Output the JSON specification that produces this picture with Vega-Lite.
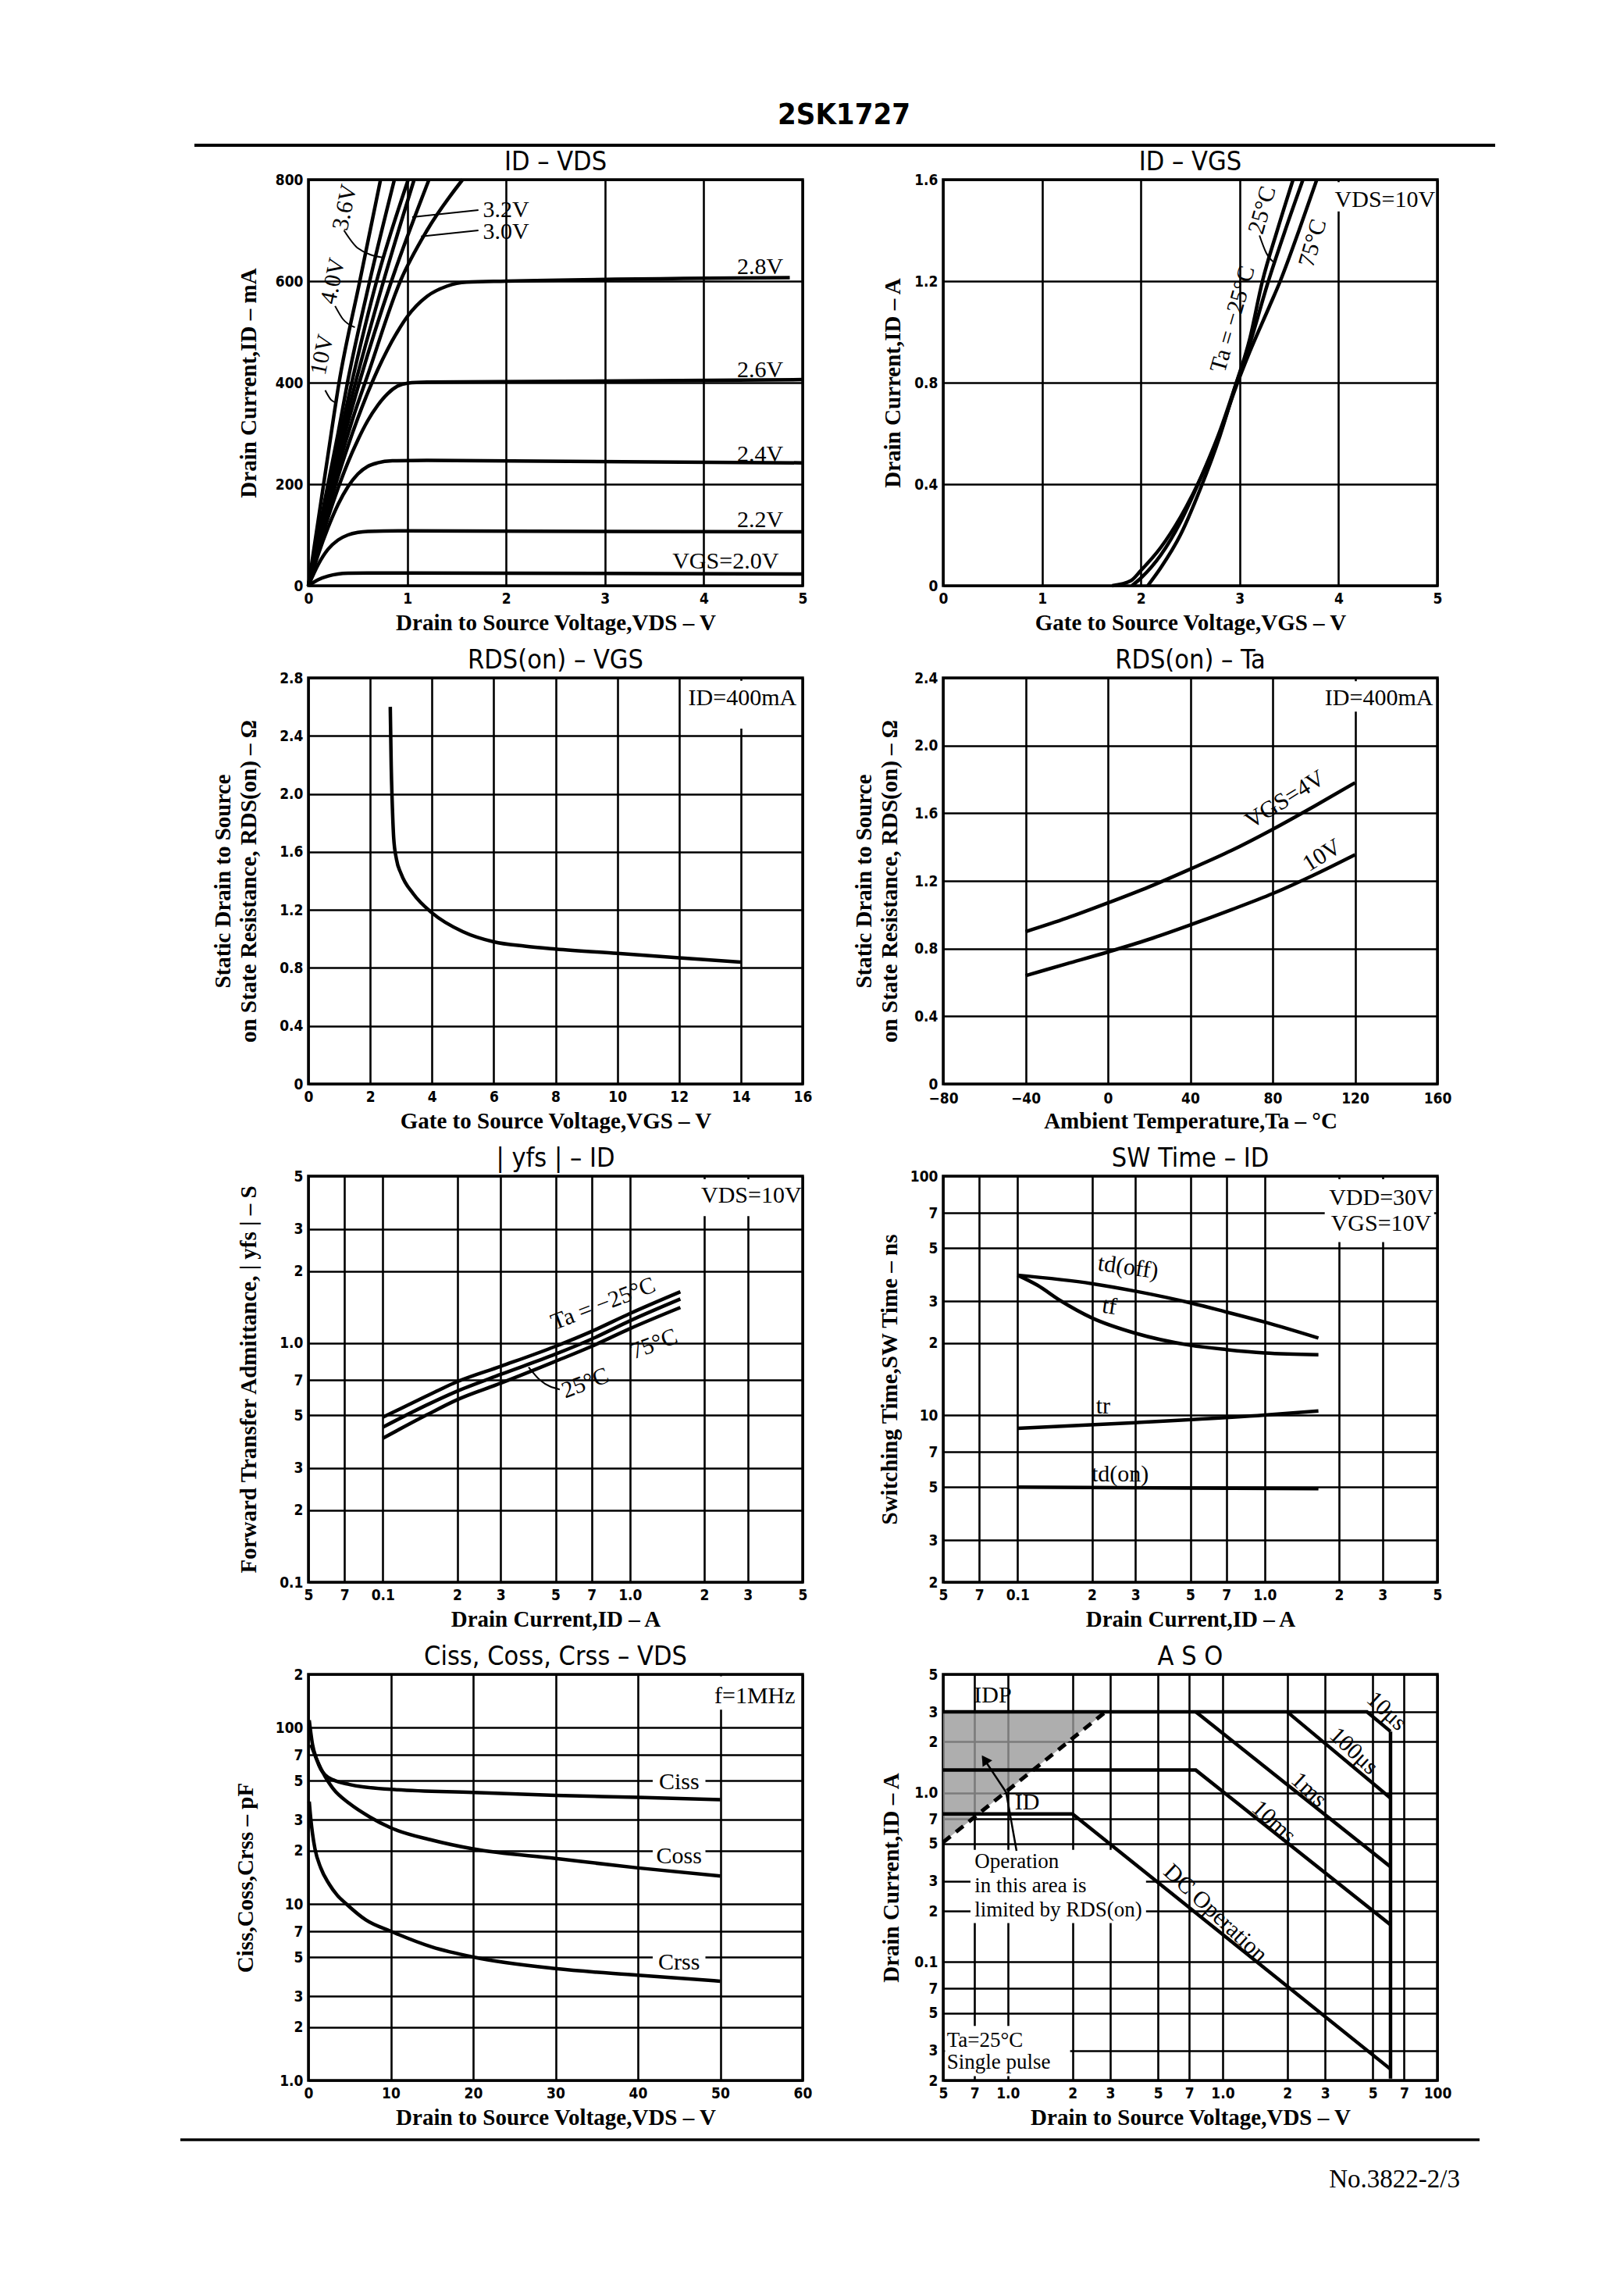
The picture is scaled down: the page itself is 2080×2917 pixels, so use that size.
{
"$schema": "https://vega.github.io/schema/vega-lite/v6.json",
"background": "white",
"padding": {"left": 229, "top": 100, "right": 10, "bottom": 10},
"autosize": {"type": "pad"},
"config": {
  "view": {"stroke": "black", "strokeWidth": 3.5},
  "axis": {"domain": false, "ticks": false, "grid": true, "gridColor": "black", "gridWidth": 2.6, "gridOpacity": 1,
    "labelFont": "DejaVu Sans Condensed, DejaVu Sans", "labelFontWeight": "bold", "labelFontSize": 19, "labelColor": "black",
    "labelPadding": 7, "labelOverlap": false, "labelFlush": false, "labelBound": false,
    "titleFont": "Liberation Serif", "titleFontWeight": "bold", "titleFontSize": 29, "titleColor": "black", "titleLineHeight": 33},
  "axisX": {"titleY": 47, "titleBaseline": "middle"},
  "axisY": {"titleBaseline": "middle"},
  "title": {"font": "DejaVu Sans Condensed, DejaVu Sans", "fontSize": 34, "fontWeight": "normal", "color": "black", "frame": "group", "offset": -4},
  "text": {"font": "Liberation Serif", "fontSize": 30, "color": "black"},
  "line": {"color": "black", "strokeWidth": 4.5}
},
"columns": 2,
"bounds": "flush",
"spacing": {"row": 118, "column": 180},
"concat": [
  {
    "width": 633, "height": 12, "view": {"stroke": null},
    "data": {"values": [{"px": 247, "px2": 1913, "py": 186}]},
    "mark": {"type": "rule", "strokeWidth": 4, "color": "black"},
    "encoding": {
      "x": {"field": "px", "type": "quantitative", "scale": {"domain": [393, 1026], "nice": false, "zero": false}, "axis": null},
      "x2": {"field": "px2"},
      "y": {"field": "py", "type": "quantitative", "scale": {"domain": [100, 112], "nice": false, "zero": false, "reverse": true}, "axis": null}
    }
  },
  {
    "width": 633, "height": 12, "view": {"stroke": null},
    "data": {"values": [{"px": 1079, "py": 148, "t": "2SK1727"}]},
    "mark": {"type": "text", "font": "DejaVu Sans Condensed, DejaVu Sans", "fontSize": 38, "fontWeight": "bold"},
    "encoding": {
      "x": {"field": "px", "type": "quantitative", "scale": {"domain": [1206, 1839], "nice": false, "zero": false}, "axis": null},
      "y": {"field": "py", "type": "quantitative", "scale": {"domain": [100, 112], "nice": false, "zero": false, "reverse": true}, "axis": null},
      "text": {"field": "t"}
    }
  },
  {
    "width": 633, "height": 520,
    "title": {"text": "ID   –   VDS"},
    "encoding": {
      "x": {"field": "x", "type": "quantitative", "scale": {"domain": [0, 5], "nice": false}, "axis": {"values": [0, 1, 2, 3, 4, 5], "title": "Drain to Source Voltage,VDS – V"}},
      "y": {"field": "y", "type": "quantitative", "scale": {"domain": [0, 800], "nice": false}, "axis": {"values": [0, 200, 400, 600, 800], "title": "Drain Current,ID – mA", "titleX": -77}}
    },
    "layer": [
      {"data": {"values": [
        {"s": "2.0V", "x": 0, "y": 0}, {"s": "2.0V", "x": 0.1, "y": 12}, {"s": "2.0V", "x": 0.2, "y": 19}, {"s": "2.0V", "x": 0.3, "y": 23}, {"s": "2.0V", "x": 0.4, "y": 24.5}, {"s": "2.0V", "x": 0.6, "y": 25}, {"s": "2.0V", "x": 1, "y": 25}, {"s": "2.0V", "x": 5, "y": 23},
        {"s": "2.2V", "x": 0, "y": 0}, {"s": "2.2V", "x": 0.1, "y": 42}, {"s": "2.2V", "x": 0.2, "y": 72}, {"s": "2.2V", "x": 0.3, "y": 90}, {"s": "2.2V", "x": 0.4, "y": 100}, {"s": "2.2V", "x": 0.5, "y": 105}, {"s": "2.2V", "x": 0.6, "y": 107}, {"s": "2.2V", "x": 1, "y": 108}, {"s": "2.2V", "x": 5, "y": 106},
        {"s": "2.4V", "x": 0, "y": 0}, {"s": "2.4V", "x": 0.1, "y": 62}, {"s": "2.4V", "x": 0.2, "y": 115}, {"s": "2.4V", "x": 0.3, "y": 160}, {"s": "2.4V", "x": 0.4, "y": 195}, {"s": "2.4V", "x": 0.5, "y": 220}, {"s": "2.4V", "x": 0.6, "y": 235}, {"s": "2.4V", "x": 0.7, "y": 242}, {"s": "2.4V", "x": 0.85, "y": 246}, {"s": "2.4V", "x": 1.2, "y": 247}, {"s": "2.4V", "x": 5, "y": 242},
        {"s": "2.6V", "x": 0, "y": 0}, {"s": "2.6V", "x": 0.1, "y": 70}, {"s": "2.6V", "x": 0.2, "y": 135}, {"s": "2.6V", "x": 0.3, "y": 192}, {"s": "2.6V", "x": 0.4, "y": 243}, {"s": "2.6V", "x": 0.5, "y": 287}, {"s": "2.6V", "x": 0.6, "y": 325}, {"s": "2.6V", "x": 0.7, "y": 355}, {"s": "2.6V", "x": 0.8, "y": 378}, {"s": "2.6V", "x": 0.9, "y": 393}, {"s": "2.6V", "x": 1.0, "y": 399}, {"s": "2.6V", "x": 1.2, "y": 401}, {"s": "2.6V", "x": 5, "y": 406},
        {"s": "2.8V", "x": 0, "y": 0}, {"s": "2.8V", "x": 0.1, "y": 75}, {"s": "2.8V", "x": 0.2, "y": 148}, {"s": "2.8V", "x": 0.3, "y": 215}, {"s": "2.8V", "x": 0.4, "y": 275}, {"s": "2.8V", "x": 0.5, "y": 330}, {"s": "2.8V", "x": 0.6, "y": 380}, {"s": "2.8V", "x": 0.7, "y": 425}, {"s": "2.8V", "x": 0.8, "y": 465}, {"s": "2.8V", "x": 0.9, "y": 500}, {"s": "2.8V", "x": 1.0, "y": 530}, {"s": "2.8V", "x": 1.2, "y": 570}, {"s": "2.8V", "x": 1.4, "y": 590}, {"s": "2.8V", "x": 1.6, "y": 598}, {"s": "2.8V", "x": 2, "y": 600}, {"s": "2.8V", "x": 4.87, "y": 607},
        {"s": "3.0V", "x": 0, "y": 0}, {"s": "3.0V", "x": 0.1, "y": 80}, {"s": "3.0V", "x": 0.2, "y": 158}, {"s": "3.0V", "x": 0.3, "y": 232}, {"s": "3.0V", "x": 0.45, "y": 330}, {"s": "3.0V", "x": 0.6, "y": 415}, {"s": "3.0V", "x": 0.93, "y": 600}, {"s": "3.0V", "x": 1.2, "y": 700}, {"s": "3.0V", "x": 1.56, "y": 800},
        {"s": "3.2V", "x": 0, "y": 0}, {"s": "3.2V", "x": 0.1, "y": 85}, {"s": "3.2V", "x": 0.2, "y": 168}, {"s": "3.2V", "x": 0.3, "y": 248}, {"s": "3.2V", "x": 0.53, "y": 410}, {"s": "3.2V", "x": 0.84, "y": 600}, {"s": "3.2V", "x": 1.22, "y": 800},
        {"s": "3.4V", "x": 0, "y": 0}, {"s": "3.4V", "x": 0.1, "y": 90}, {"s": "3.4V", "x": 0.2, "y": 178}, {"s": "3.4V", "x": 0.3, "y": 262}, {"s": "3.4V", "x": 0.49, "y": 410}, {"s": "3.4V", "x": 0.76, "y": 600}, {"s": "3.4V", "x": 1.07, "y": 800},
        {"s": "3.6V", "x": 0, "y": 0}, {"s": "3.6V", "x": 0.1, "y": 95}, {"s": "3.6V", "x": 0.2, "y": 188}, {"s": "3.6V", "x": 0.3, "y": 278}, {"s": "3.6V", "x": 0.45, "y": 410}, {"s": "3.6V", "x": 0.69, "y": 600}, {"s": "3.6V", "x": 1.01, "y": 800},
        {"s": "4.0V", "x": 0, "y": 0}, {"s": "4.0V", "x": 0.1, "y": 102}, {"s": "4.0V", "x": 0.2, "y": 202}, {"s": "4.0V", "x": 0.3, "y": 300}, {"s": "4.0V", "x": 0.4, "y": 405}, {"s": "4.0V", "x": 0.62, "y": 600}, {"s": "4.0V", "x": 0.87, "y": 800},
        {"s": "10V", "x": 0, "y": 0}, {"s": "10V", "x": 0.1, "y": 130}, {"s": "10V", "x": 0.2, "y": 260}, {"s": "10V", "x": 0.31, "y": 400}, {"s": "10V", "x": 0.52, "y": 600}, {"s": "10V", "x": 0.73, "y": 800}
      ]}, "mark": {"type": "line", "interpolate": "monotone"}, "encoding": {"detail": {"field": "s"}}},
      {"data": {"values": [
        {"s": "a", "x": 1.05, "y": 726}, {"s": "a", "x": 1.72, "y": 740},
        {"s": "b", "x": 1.14, "y": 688}, {"s": "b", "x": 1.72, "y": 700},
        {"s": "c", "x": 0.36, "y": 700}, {"s": "c", "x": 0.5, "y": 665}, {"s": "c", "x": 0.76, "y": 646},
        {"s": "d", "x": 0.27, "y": 551}, {"s": "d", "x": 0.35, "y": 525}, {"s": "d", "x": 0.47, "y": 509},
        {"s": "e", "x": 0.17, "y": 385}, {"s": "e", "x": 0.23, "y": 366}, {"s": "e", "x": 0.29, "y": 360}
      ]}, "mark": {"type": "line", "interpolate": "monotone", "strokeWidth": 2}, "encoding": {"detail": {"field": "s"}}},
      {"data": {"values": [
        {"x": 4.57, "y": 628, "t": "2.8V"}, {"x": 4.57, "y": 425, "t": "2.6V"}, {"x": 4.57, "y": 258, "t": "2.4V"}, {"x": 4.57, "y": 129, "t": "2.2V"},
        {"x": 4.22, "y": 48, "t": "VGS=2.0V"}, {"x": 2.0, "y": 740, "t": "3.2V"}, {"x": 2.0, "y": 697, "t": "3.0V"}
      ]}, "mark": {"type": "text"}, "encoding": {"text": {"field": "t"}}},
      {"data": {"values": [
        {"x": 0.37, "y": 745, "t": "3.6V"}, {"x": 0.25, "y": 600, "t": "4.0V"}, {"x": 0.14, "y": 455, "t": "10V"}
      ]}, "mark": {"type": "text", "angle": -78}, "encoding": {"text": {"field": "t"}}}
    ]
  },
  {
    "width": 633, "height": 520,
    "title": {"text": "ID   –   VGS"},
    "encoding": {
      "x": {"field": "x", "type": "quantitative", "scale": {"domain": [0, 5], "nice": false}, "axis": {"values": [0, 1, 2, 3, 4, 5], "title": "Gate to Source Voltage,VGS – V"}},
      "y": {"field": "y", "type": "quantitative", "scale": {"domain": [0, 1.6], "nice": false}, "axis": {"values": [0, 0.4, 0.8, 1.2, 1.6], "labelExpr": "datum.value==0?'0':format(datum.value,'.1f')", "title": "Drain Current,ID – A", "titleX": -65}}
    },
    "layer": [
      {"data": {"values": [{"x": 3.95, "x2": 4.97, "y": 1.475, "y2": 1.59}]}, "mark": {"type": "rect", "color": "white"}, "encoding": {"x2": {"field": "x2"}, "y2": {"field": "y2"}}},
      {"data": {"values": [
        {"s": "75", "x": 1.71, "y": 0}, {"s": "75", "x": 1.9, "y": 0.02}, {"s": "75", "x": 2.0, "y": 0.06}, {"s": "75", "x": 2.2, "y": 0.15}, {"s": "75", "x": 2.4, "y": 0.27}, {"s": "75", "x": 2.6, "y": 0.42}, {"s": "75", "x": 2.8, "y": 0.6}, {"s": "75", "x": 2.95, "y": 0.77}, {"s": "75", "x": 3.1, "y": 0.92}, {"s": "75", "x": 3.3, "y": 1.1}, {"s": "75", "x": 3.41, "y": 1.2}, {"s": "75", "x": 3.6, "y": 1.4}, {"s": "75", "x": 3.78, "y": 1.6},
        {"s": "25", "x": 1.91, "y": 0}, {"s": "25", "x": 2.0, "y": 0.03}, {"s": "25", "x": 2.2, "y": 0.12}, {"s": "25", "x": 2.4, "y": 0.25}, {"s": "25", "x": 2.6, "y": 0.42}, {"s": "25", "x": 2.8, "y": 0.61}, {"s": "25", "x": 2.95, "y": 0.78}, {"s": "25", "x": 3.1, "y": 0.95}, {"s": "25", "x": 3.29, "y": 1.2}, {"s": "25", "x": 3.46, "y": 1.4}, {"s": "25", "x": 3.64, "y": 1.6},
        {"s": "-25", "x": 2.07, "y": 0}, {"s": "-25", "x": 2.2, "y": 0.07}, {"s": "-25", "x": 2.4, "y": 0.2}, {"s": "-25", "x": 2.6, "y": 0.38}, {"s": "-25", "x": 2.8, "y": 0.59}, {"s": "-25", "x": 2.95, "y": 0.78}, {"s": "-25", "x": 3.1, "y": 0.97}, {"s": "-25", "x": 3.23, "y": 1.2}, {"s": "-25", "x": 3.38, "y": 1.4}, {"s": "-25", "x": 3.54, "y": 1.6}
      ]}, "mark": {"type": "line", "interpolate": "monotone"}, "encoding": {"detail": {"field": "s"}}},
      {"data": {"values": [{"s": "l", "x": 3.2, "y": 1.38}, {"s": "l", "x": 3.27, "y": 1.31}, {"s": "l", "x": 3.36, "y": 1.27}]}, "mark": {"type": "line", "interpolate": "monotone", "strokeWidth": 2}, "encoding": {"detail": {"field": "s"}}},
      {"data": {"values": [{"x": 4.47, "y": 1.52, "t": "VDS=10V"}]}, "mark": {"type": "text"}, "encoding": {"text": {"field": "t"}}},
      {"data": {"values": [{"x": 2.93, "y": 1.05, "t": "Ta = −25°C"}, {"x": 3.23, "y": 1.48, "t": "25°C"}, {"x": 3.74, "y": 1.35, "t": "75°C"}]}, "mark": {"type": "text", "angle": -74}, "encoding": {"text": {"field": "t"}}}
    ]
  },
  {
    "width": 633, "height": 520,
    "title": {"text": "RDS(on)   –   VGS"},
    "encoding": {
      "x": {"field": "x", "type": "quantitative", "scale": {"domain": [0, 16], "nice": false}, "axis": {"values": [0, 2, 4, 6, 8, 10, 12, 14, 16], "title": "Gate to Source Voltage,VGS – V"}},
      "y": {"field": "y", "type": "quantitative", "scale": {"domain": [0, 2.8], "nice": false}, "axis": {"values": [0, 0.4, 0.8, 1.2, 1.6, 2.0, 2.4, 2.8], "labelExpr": "datum.value==0?'0':format(datum.value,'.1f')", "title": ["Static Drain to Source", "on State Resistance, RDS(on) – Ω"], "titleX": -110}}
    },
    "layer": [
      {"data": {"values": [{"x": 12.15, "x2": 15.92, "y": 2.45, "y2": 2.78}]}, "mark": {"type": "rect", "color": "white"}, "encoding": {"x2": {"field": "x2"}, "y2": {"field": "y2"}}},
      {"data": {"values": [
        {"x": 2.65, "y": 2.6}, {"x": 2.68, "y": 2.2}, {"x": 2.72, "y": 1.9}, {"x": 2.76, "y": 1.7}, {"x": 2.85, "y": 1.55}, {"x": 3.0, "y": 1.45}, {"x": 3.4, "y": 1.31}, {"x": 4.0, "y": 1.18}, {"x": 5.0, "y": 1.05}, {"x": 6.0, "y": 0.98}, {"x": 7.0, "y": 0.95}, {"x": 8.0, "y": 0.93}, {"x": 10.0, "y": 0.9}, {"x": 12.0, "y": 0.87}, {"x": 14.0, "y": 0.84}
      ]}, "mark": {"type": "line", "interpolate": "monotone"}},
      {"data": {"values": [{"x": 14.05, "y": 2.66, "t": "ID=400mA"}]}, "mark": {"type": "text"}, "encoding": {"text": {"field": "t"}}}
    ]
  },
  {
    "width": 633, "height": 520,
    "title": {"text": "RDS(on)   –   Ta"},
    "encoding": {
      "x": {"field": "x", "type": "quantitative", "scale": {"domain": [-80, 160], "nice": false}, "axis": {"values": [-80, -40, 0, 40, 80, 120, 160], "labelPadding": 9, "title": "Ambient Temperature,Ta – °C"}},
      "y": {"field": "y", "type": "quantitative", "scale": {"domain": [0, 2.4], "nice": false}, "axis": {"values": [0, 0.4, 0.8, 1.2, 1.6, 2.0, 2.4], "labelExpr": "datum.value==0?'0':format(datum.value,'.1f')", "title": ["Static Drain to Source", "on State Resistance, RDS(on) – Ω"], "titleX": -102}}
    },
    "layer": [
      {"data": {"values": [{"x": 106, "x2": 158.5, "y": 2.2, "y2": 2.38}]}, "mark": {"type": "rect", "color": "white"}, "encoding": {"x2": {"field": "x2"}, "y2": {"field": "y2"}}},
      {"data": {"values": [
        {"s": "4V", "x": -40, "y": 0.9}, {"s": "4V", "x": -20, "y": 0.98}, {"s": "4V", "x": 0, "y": 1.07}, {"s": "4V", "x": 20, "y": 1.165}, {"s": "4V", "x": 40, "y": 1.27}, {"s": "4V", "x": 60, "y": 1.38}, {"s": "4V", "x": 80, "y": 1.505}, {"s": "4V", "x": 100, "y": 1.64}, {"s": "4V", "x": 120, "y": 1.78},
        {"s": "10V", "x": -40, "y": 0.64}, {"s": "10V", "x": -20, "y": 0.71}, {"s": "10V", "x": 0, "y": 0.78}, {"s": "10V", "x": 20, "y": 0.855}, {"s": "10V", "x": 40, "y": 0.94}, {"s": "10V", "x": 60, "y": 1.03}, {"s": "10V", "x": 80, "y": 1.125}, {"s": "10V", "x": 100, "y": 1.235}, {"s": "10V", "x": 120, "y": 1.355}
      ]}, "mark": {"type": "line", "interpolate": "monotone"}, "encoding": {"detail": {"field": "s"}}},
      {"data": {"values": [{"x": 131.6, "y": 2.28, "t": "ID=400mA"}]}, "mark": {"type": "text"}, "encoding": {"text": {"field": "t"}}},
      {"data": {"values": [{"x": 86, "y": 1.68, "t": "VGS=4V"}, {"x": 104, "y": 1.35, "t": "10V"}]}, "mark": {"type": "text", "angle": -32}, "encoding": {"text": {"field": "t"}}}
    ]
  },
  {
    "width": 633, "height": 520,
    "title": {"text": "| yfs |   –   ID"},
    "encoding": {
      "x": {"field": "x", "type": "quantitative", "scale": {"type": "log", "domain": [0.05, 5], "nice": false}, "axis": {"values": [0.05, 0.07, 0.1, 0.2, 0.3, 0.5, 0.7, 1, 2, 3, 5], "labelExpr": "datum.value==0.1?'0.1':datum.value==1?'1.0':datum.value<0.1?format(datum.value*100,'d'):datum.value<1?format(datum.value*10,'d'):format(datum.value,'d')", "title": "Drain Current,ID – A"}},
      "y": {"field": "y", "type": "quantitative", "scale": {"type": "log", "domain": [0.1, 5], "nice": false}, "axis": {"values": [0.1, 0.2, 0.3, 0.5, 0.7, 1, 2, 3, 5], "labelExpr": "datum.value==0.1?'0.1':datum.value==1?'1.0':datum.value<1?format(datum.value*10,'d'):format(datum.value,'d')", "title": "Forward Transfer Admittance, | yfs | – S", "titleX": -77}}
    },
    "layer": [
      {"data": {"values": [{"x": 1.9, "x2": 4.85, "y": 3.4, "y2": 4.85}]}, "mark": {"type": "rect", "color": "white"}, "encoding": {"x2": {"field": "x2"}, "y2": {"field": "y2"}}},
      {"data": {"values": [
        {"s": "-25", "x": 0.1, "y": 0.49}, {"s": "-25", "x": 0.15, "y": 0.6}, {"s": "-25", "x": 0.2, "y": 0.69}, {"s": "-25", "x": 0.3, "y": 0.8}, {"s": "-25", "x": 0.5, "y": 0.97}, {"s": "-25", "x": 0.7, "y": 1.12}, {"s": "-25", "x": 1.0, "y": 1.33}, {"s": "-25", "x": 1.6, "y": 1.64},
        {"s": "25", "x": 0.1, "y": 0.445}, {"s": "25", "x": 0.15, "y": 0.55}, {"s": "25", "x": 0.2, "y": 0.63}, {"s": "25", "x": 0.3, "y": 0.74}, {"s": "25", "x": 0.5, "y": 0.9}, {"s": "25", "x": 0.7, "y": 1.04}, {"s": "25", "x": 1.0, "y": 1.24}, {"s": "25", "x": 1.6, "y": 1.53},
        {"s": "75", "x": 0.1, "y": 0.4}, {"s": "75", "x": 0.15, "y": 0.5}, {"s": "75", "x": 0.2, "y": 0.58}, {"s": "75", "x": 0.3, "y": 0.68}, {"s": "75", "x": 0.5, "y": 0.84}, {"s": "75", "x": 0.7, "y": 0.97}, {"s": "75", "x": 1.0, "y": 1.15}, {"s": "75", "x": 1.6, "y": 1.41}
      ]}, "mark": {"type": "line", "interpolate": "monotone"}, "encoding": {"detail": {"field": "s"}}},
      {"data": {"values": [{"s": "l", "x": 0.389, "y": 0.794}, {"s": "l", "x": 0.433, "y": 0.7}, {"s": "l", "x": 0.52, "y": 0.64}]}, "mark": {"type": "line", "interpolate": "monotone", "strokeWidth": 2}, "encoding": {"detail": {"field": "s"}}},
      {"data": {"values": [{"x": 3.1, "y": 4.14, "t": "VDS=10V"}]}, "mark": {"type": "text"}, "encoding": {"text": {"field": "t"}}},
      {"data": {"values": [{"x": 0.78, "y": 1.46, "t": "Ta = −25°C"}, {"x": 1.25, "y": 0.99, "t": "75°C"}, {"x": 0.66, "y": 0.68, "t": "25°C"}]}, "mark": {"type": "text", "angle": -21}, "encoding": {"text": {"field": "t"}}}
    ]
  },
  {
    "width": 633, "height": 520,
    "title": {"text": "SW Time   –   ID"},
    "encoding": {
      "x": {"field": "x", "type": "quantitative", "scale": {"type": "log", "domain": [0.05, 5], "nice": false}, "axis": {"values": [0.05, 0.07, 0.1, 0.2, 0.3, 0.5, 0.7, 1, 2, 3, 5], "labelExpr": "datum.value==0.1?'0.1':datum.value==1?'1.0':datum.value<0.1?format(datum.value*100,'d'):datum.value<1?format(datum.value*10,'d'):format(datum.value,'d')", "title": "Drain Current,ID – A"}},
      "y": {"field": "y", "type": "quantitative", "scale": {"type": "log", "domain": [2, 100], "nice": false}, "axis": {"values": [2, 3, 5, 7, 10, 20, 30, 50, 70, 100], "labelExpr": "datum.value==10?'10':datum.value==100?'100':datum.value<10?format(datum.value,'d'):format(datum.value/10,'d')", "title": "Switching Time,SW Time – ns", "titleX": -69}}
    },
    "layer": [
      {"data": {"values": [{"x": 1.75, "x2": 4.85, "y": 53, "y2": 97}]}, "mark": {"type": "rect", "color": "white"}, "encoding": {"x2": {"field": "x2"}, "y2": {"field": "y2"}}},
      {"data": {"values": [
        {"s": "tdoff", "x": 0.1, "y": 38.5}, {"s": "tdoff", "x": 0.2, "y": 35.5}, {"s": "tdoff", "x": 0.3, "y": 33}, {"s": "tdoff", "x": 0.5, "y": 29.5}, {"s": "tdoff", "x": 0.7, "y": 27}, {"s": "tdoff", "x": 1.0, "y": 24.5}, {"s": "tdoff", "x": 1.65, "y": 21},
        {"s": "tf", "x": 0.1, "y": 38.5}, {"s": "tf", "x": 0.12, "y": 35}, {"s": "tf", "x": 0.15, "y": 30}, {"s": "tf", "x": 0.2, "y": 25.5}, {"s": "tf", "x": 0.3, "y": 22}, {"s": "tf", "x": 0.5, "y": 19.6}, {"s": "tf", "x": 0.7, "y": 18.8}, {"s": "tf", "x": 1.0, "y": 18.2}, {"s": "tf", "x": 1.65, "y": 17.9},
        {"s": "tr", "x": 0.1, "y": 8.8}, {"s": "tr", "x": 0.3, "y": 9.3}, {"s": "tr", "x": 1.0, "y": 10.0}, {"s": "tr", "x": 1.65, "y": 10.4},
        {"s": "tdon", "x": 0.1, "y": 5.0}, {"s": "tdon", "x": 1.65, "y": 4.92}
      ]}, "mark": {"type": "line", "interpolate": "monotone"}, "encoding": {"detail": {"field": "s"}}},
      {"data": {"values": [{"x": 2.96, "y": 81, "t": "VDD=30V"}, {"x": 2.96, "y": 63, "t": "VGS=10V"}, {"x": 0.222, "y": 10.9, "t": "tr"}, {"x": 0.26, "y": 5.65, "t": "td(on)"}]}, "mark": {"type": "text"}, "encoding": {"text": {"field": "t"}}},
      {"data": {"values": [{"x": 0.28, "y": 41.5, "t": "td(off)"}, {"x": 0.235, "y": 28.5, "t": "tf"}]}, "mark": {"type": "text", "angle": 8}, "encoding": {"text": {"field": "t"}}}
    ]
  },
  {
    "width": 633, "height": 520,
    "title": {"text": "Ciss, Coss, Crss   –   VDS"},
    "encoding": {
      "x": {"field": "x", "type": "quantitative", "scale": {"domain": [0, 60], "nice": false}, "axis": {"values": [0, 10, 20, 30, 40, 50, 60], "title": "Drain to Source Voltage,VDS – V"}},
      "y": {"field": "y", "type": "quantitative", "scale": {"type": "log", "domain": [1, 200], "nice": false}, "axis": {"values": [1, 2, 3, 5, 7, 10, 20, 30, 50, 70, 100, 200], "labelExpr": "datum.value==1?'1.0':datum.value==10?'10':datum.value==100?'100':datum.value<10?format(datum.value,'d'):datum.value<100?format(datum.value/10,'d'):format(datum.value/100,'d')", "title": "Ciss,Coss,Crss – pF", "titleX": -81}}
    },
    "layer": [
      {"data": {"values": [{"x": 48.5, "x2": 59.5, "y": 126, "y2": 195}, {"x": 41.8, "x2": 48.2, "y": 43.5, "y2": 57}, {"x": 41.8, "x2": 48.2, "y": 16.3, "y2": 21.8}, {"x": 41.8, "x2": 48.2, "y": 4.1, "y2": 5.35}]}, "mark": {"type": "rect", "color": "white"}, "encoding": {"x2": {"field": "x2"}, "y2": {"field": "y2"}}},
      {"data": {"values": [
        {"s": "Ciss", "x": 0.1, "y": 110}, {"s": "Ciss", "x": 0.5, "y": 80}, {"s": "Ciss", "x": 1, "y": 66}, {"s": "Ciss", "x": 1.5, "y": 58}, {"s": "Ciss", "x": 2, "y": 54}, {"s": "Ciss", "x": 3, "y": 50.5}, {"s": "Ciss", "x": 5, "y": 47.5}, {"s": "Ciss", "x": 10, "y": 44.6}, {"s": "Ciss", "x": 20, "y": 42.8}, {"s": "Ciss", "x": 30, "y": 41.2}, {"s": "Ciss", "x": 40, "y": 40.2}, {"s": "Ciss", "x": 50, "y": 39},
        {"s": "Coss", "x": 0.3, "y": 80}, {"s": "Coss", "x": 1, "y": 66}, {"s": "Coss", "x": 2, "y": 53}, {"s": "Coss", "x": 3, "y": 45}, {"s": "Coss", "x": 5, "y": 37}, {"s": "Coss", "x": 7.5, "y": 31}, {"s": "Coss", "x": 10, "y": 27}, {"s": "Coss", "x": 15, "y": 23}, {"s": "Coss", "x": 20, "y": 20.5}, {"s": "Coss", "x": 30, "y": 18.1}, {"s": "Coss", "x": 40, "y": 16}, {"s": "Coss", "x": 50, "y": 14.4},
        {"s": "Crss", "x": 0.1, "y": 38}, {"s": "Crss", "x": 0.3, "y": 30}, {"s": "Crss", "x": 0.5, "y": 25}, {"s": "Crss", "x": 0.8, "y": 20.5}, {"s": "Crss", "x": 1.5, "y": 16}, {"s": "Crss", "x": 2.5, "y": 13}, {"s": "Crss", "x": 3.5, "y": 11.2}, {"s": "Crss", "x": 4.6, "y": 10}, {"s": "Crss", "x": 7, "y": 8.1}, {"s": "Crss", "x": 10, "y": 7}, {"s": "Crss", "x": 15, "y": 5.7}, {"s": "Crss", "x": 20, "y": 5}, {"s": "Crss", "x": 30, "y": 4.3}, {"s": "Crss", "x": 40, "y": 3.95}, {"s": "Crss", "x": 50, "y": 3.65}
      ]}, "mark": {"type": "line", "interpolate": "monotone"}, "encoding": {"detail": {"field": "s"}}},
      {"data": {"values": [{"x": 54.2, "y": 151, "t": "f=1MHz"}, {"x": 45, "y": 49, "t": "Ciss"}, {"x": 45, "y": 18.6, "t": "Coss"}, {"x": 45, "y": 4.67, "t": "Crss"}]}, "mark": {"type": "text"}, "encoding": {"text": {"field": "t"}}}
    ]
  },
  {
    "width": 633, "height": 520,
    "title": {"text": "A S O"},
    "encoding": {
      "x": {"field": "x", "type": "quantitative", "scale": {"type": "log", "domain": [0.5, 100], "nice": false}, "axis": {"values": [0.5, 0.7, 1, 2, 3, 5, 7, 10, 20, 30, 50, 70, 100], "labelExpr": "datum.value==1||datum.value==10?'1.0':datum.value==100?'100':datum.value<1?format(datum.value*10,'d'):datum.value<10?format(datum.value,'d'):format(datum.value/10,'d')", "title": "Drain to Source Voltage,VDS – V"}},
      "y": {"field": "y", "type": "quantitative", "scale": {"type": "log", "domain": [0.02, 5], "nice": false}, "axis": {"values": [0.02, 0.03, 0.05, 0.07, 0.1, 0.2, 0.3, 0.5, 0.7, 1, 2, 3, 5], "labelExpr": "datum.value==0.1?'0.1':datum.value==1?'1.0':datum.value<0.1?format(datum.value*100,'d'):datum.value<1?format(datum.value*10,'d'):format(datum.value,'d')", "title": "Drain Current,ID – A", "titleX": -67}}
    },
    "layer": [
      {"data": {"values": [{"x": 0.67, "x2": 4.4, "y": 0.17, "y2": 0.46}, {"x": 0.51, "x2": 1.95, "y": 0.0212, "y2": 0.042}]}, "mark": {"type": "rect", "color": "white"}, "encoding": {"x2": {"field": "x2"}, "y2": {"field": "y2"}}},
      {"data": {"values": [{"x": 0.5, "y": 0.51, "y2": 3}, {"x": 2.85, "y": 3, "y2": 3}]}, "mark": {"type": "area", "color": "#9a9a9a", "opacity": 0.8}, "encoding": {"y2": {"field": "y2"}}},
      {"data": {"values": [
        {"s": "IDP", "x": 0.5, "y": 3}, {"s": "IDP", "x": 47, "y": 3}, {"s": "IDP", "x": 60.5, "y": 2.3},
        {"s": "vlim", "x": 60.5, "y": 2.3}, {"s": "vlim", "x": 60.5, "y": 0.0205},
        {"s": "100us", "x": 20, "y": 3}, {"s": "100us", "x": 60.5, "y": 0.93},
        {"s": "1ms", "x": 7.5, "y": 3}, {"s": "1ms", "x": 60.5, "y": 0.365},
        {"s": "10ms", "x": 0.5, "y": 1.36}, {"s": "10ms", "x": 7.5, "y": 1.36}, {"s": "10ms", "x": 60.5, "y": 0.166},
        {"s": "DC", "x": 0.5, "y": 0.75}, {"s": "DC", "x": 2, "y": 0.75}, {"s": "DC", "x": 60.5, "y": 0.0233}
      ]}, "mark": {"type": "line"}, "encoding": {"detail": {"field": "s"}}},
      {"data": {"values": [{"x": 0.5, "y": 0.51}, {"x": 2.85, "y": 3}]}, "mark": {"type": "line", "strokeWidth": 5, "strokeDash": [12, 9]}},
      {"data": {"values": [{"x": 0.764, "y": 1.623}, {"x": 0.982, "y": 1.006}, {"x": 1.098, "y": 0.454}]}, "mark": {"type": "line", "strokeWidth": 2.5}},
      {"data": {"values": [{"x": 0.78, "y": 1.57}]}, "mark": {"type": "point", "shape": "triangle-up", "angle": -34, "size": 220, "filled": true, "color": "black", "opacity": 1}},
      {"data": {"values": [{"x": 0.85, "y": 3.75, "t": "IDP"}, {"x": 1.23, "y": 0.88, "t": "ID"}]}, "mark": {"type": "text"}, "encoding": {"text": {"field": "t"}}},
      {"data": {"values": [{"x": 0.7, "y": 0.389, "t": "Operation"}, {"x": 0.7, "y": 0.281, "t": "in this area is"}, {"x": 0.7, "y": 0.2025, "t": "limited by RDS(on)"}, {"x": 0.52, "y": 0.0345, "t": "Ta=25°C"}, {"x": 0.52, "y": 0.0254, "t": "Single pulse"}]}, "mark": {"type": "text", "align": "left", "fontSize": 27}, "encoding": {"text": {"field": "t"}}},
      {"data": {"values": [{"x": 58, "y": 3.03, "t": "10μs"}, {"x": 40.8, "y": 1.76, "t": "100μs"}, {"x": 25.2, "y": 1.04, "t": "1ms"}, {"x": 17.3, "y": 0.672, "t": "10ms"}, {"x": 9.27, "y": 0.194, "t": "DC Operation"}]}, "mark": {"type": "text", "angle": 43}, "encoding": {"text": {"field": "t"}}}
    ]
  },
  {
    "width": 633, "height": 12, "view": {"stroke": null},
    "data": {"values": [{"px": 229, "px2": 1893, "py": 2740}]},
    "mark": {"type": "rule", "strokeWidth": 3.5, "color": "black"},
    "encoding": {
      "x": {"field": "px", "type": "quantitative", "scale": {"domain": [393, 1026], "nice": false, "zero": false}, "axis": null},
      "x2": {"field": "px2"},
      "y": {"field": "py", "type": "quantitative", "scale": {"domain": [2782, 2794], "nice": false, "zero": false, "reverse": true}, "axis": null}
    }
  },
  {
    "width": 633, "height": 12, "view": {"stroke": null},
    "data": {"values": [{"px": 1868, "py": 2791, "t": "No.3822-2/3"}]},
    "mark": {"type": "text", "font": "Liberation Serif", "fontSize": 33, "align": "right"},
    "encoding": {
      "x": {"field": "px", "type": "quantitative", "scale": {"domain": [1206, 1839], "nice": false, "zero": false}, "axis": null},
      "y": {"field": "py", "type": "quantitative", "scale": {"domain": [2782, 2794], "nice": false, "zero": false, "reverse": true}, "axis": null},
      "text": {"field": "t"}
    }
  }
]
}
